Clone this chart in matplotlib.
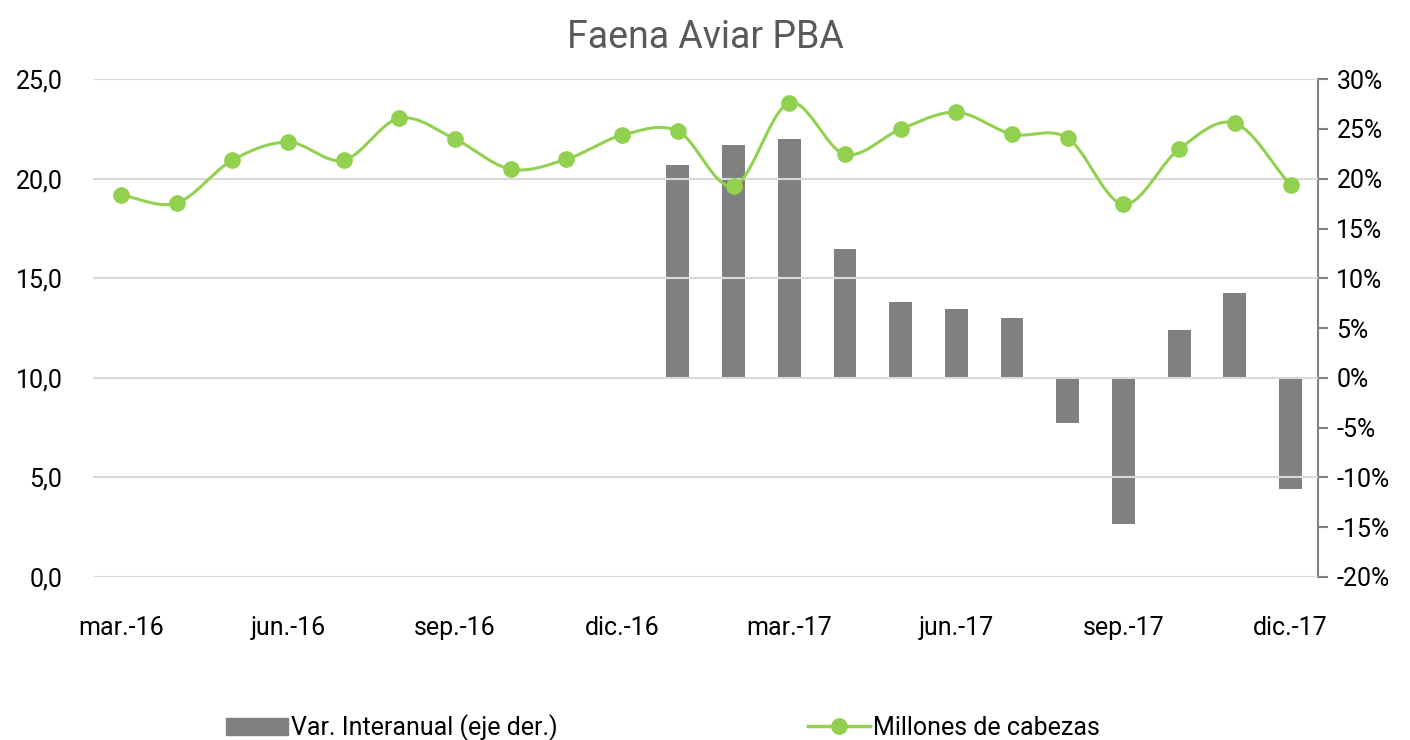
import matplotlib
matplotlib.use("Agg")
import matplotlib.pyplot as plt
import numpy as np
from matplotlib.lines import Line2D
from matplotlib.patches import Patch

plt.rcParams['font.family'] = ['Roboto', 'DejaVu Sans']

meses = ["mar.-16", "abr.-16", "may.-16", "jun.-16", "jul.-16", "ago.-16",
         "sep.-16", "oct.-16", "nov.-16", "dic.-16", "ene.-17", "feb.-17",
         "mar.-17", "abr.-17", "may.-17", "jun.-17", "jul.-17", "ago.-17",
         "sep.-17", "oct.-17", "nov.-17", "dic.-17"]

# millones de cabezas
cabezas = [19.18, 18.78, 20.93, 21.84, 20.93, 23.04, 21.99, 20.48, 20.98, 22.19,
           22.39, 19.63, 23.80, 21.23, 22.49, 23.34, 22.24, 22.04, 18.72, 21.49,
           22.79, 19.68]

# variación interanual (%), sólo desde ene.-17
var_meses = meses[10:]
var_ia = [21.4, 23.4, 24.0, 12.9, 7.6, 6.9, 6.0, -4.5, -14.7, 4.8, 8.5, -11.2]

verde = "#92D050"
gris = "#808080"

fig = plt.figure(figsize=(14.1, 7.4), dpi=100)
ax = fig.add_axes([0.066, 0.2203, 0.869, 0.6727])
ax2 = ax.twinx()

x = np.arange(len(meses))
xb = np.array([meses.index(m) for m in var_meses])

# barras en eje derecho
ax2.bar(xb, var_ia, width=0.41, color=gris, zorder=2)
ax2.set_ylim(-20, 30)
ax2.set_yticks(np.arange(-20, 31, 5))
ax2.set_yticklabels([f"{v}%" for v in range(-20, 31, 5)])

# linea suavizada (Catmull-Rom)
def suavizar(xs, ys, n=30):
    p = np.column_stack([xs, ys]).astype(float)
    p = np.vstack([2 * p[0] - p[1], p, 2 * p[-1] - p[-2]])
    out = []
    t = np.linspace(0, 1, n, endpoint=False)[:, None]
    for i in range(1, len(p) - 2):
        p0, p1, p2, p3 = p[i - 1], p[i], p[i + 1], p[i + 2]
        seg = 0.5 * ((2 * p1) + (-p0 + p2) * t + (2 * p0 - 5 * p1 + 4 * p2 - p3) * t ** 2
                     + (-p0 + 3 * p1 - 3 * p2 + p3) * t ** 3)
        out.append(seg)
    out.append(p[-2][None, :])
    out = np.vstack(out)
    return out[:, 0], out[:, 1]

sx, sy = suavizar(x, cabezas)

# eje izquierdo por encima de las barras
ax.set_zorder(ax2.get_zorder() + 1)
ax.patch.set_visible(False)
ax.plot(sx, sy, color=verde, lw=2.2, zorder=3)
ax.plot(x, cabezas, "o", color=verde, ms=11, zorder=4)

ax.set_ylim(0, 25)
ax.set_yticks(np.arange(0, 26, 5))
ax.set_yticklabels([f"{v},0" for v in range(0, 26, 5)])
ax.set_xlim(-0.5, len(meses) - 0.5)
ax.set_xticks(x[::3])
ax.set_xticklabels(meses[::3])

ax.yaxis.grid(True, color="#D9D9D9", lw=1.5)
ax.set_axisbelow(True)
for s in ["top", "right", "left", "bottom"]:
    ax.spines[s].set_visible(False)
for s in ["top", "left", "bottom"]:
    ax2.spines[s].set_visible(False)
ax2.spines["right"].set_color(gris)
ax2.spines["right"].set_linewidth(1.5)

ax.tick_params(axis="y", length=0, labelsize=18, pad=22)
ax.tick_params(axis="x", length=0, labelsize=18, pad=28)
ax2.tick_params(axis="y", length=7, width=1.5, color=gris, labelsize=18, pad=6)

fig.suptitle("Faena Aviar PBA", fontsize=27, color="#595959", y=0.975)

handles = [Patch(color=gris, label="Var. Interanual (eje der.)"),
           Line2D([], [], color=verde, lw=2.5, marker="o", ms=11,
                  label="Millones de cabezas")]
fig.legend(handles=handles, loc="lower center", ncol=2, frameon=False,
           fontsize=18, bbox_to_anchor=(0.47, -0.032), columnspacing=10,
           handlelength=2.5, handletextpad=0.1)

fig.savefig("out.png", dpi=100)
